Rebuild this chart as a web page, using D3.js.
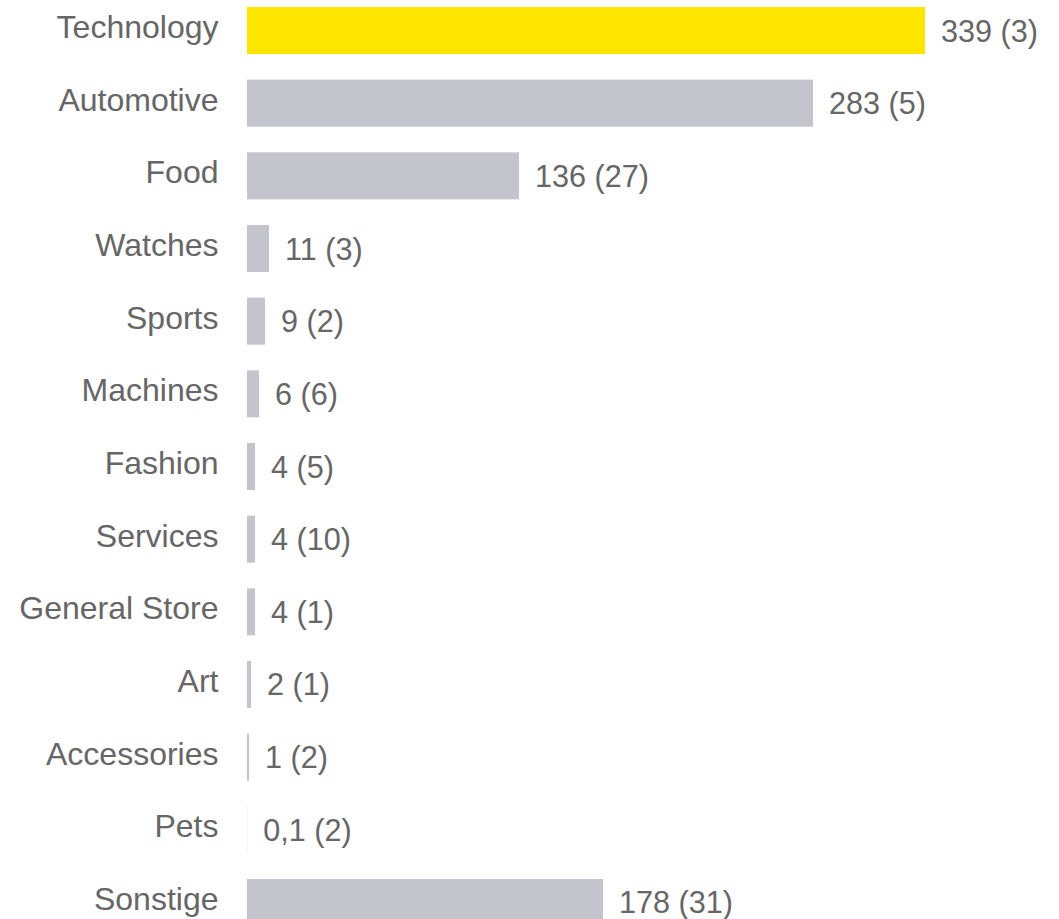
<!DOCTYPE html>
<html>
<head>
<meta charset="utf-8">
<script src="https://cdn.jsdelivr.net/npm/d3@7"></script>
<style>
  html, body { margin: 0; padding: 0; background: #fff; }
  svg { display: block; }
</style>
</head>
<body>
<svg id="chart" width="1059" height="919"></svg>
<script>
const categories = ["Technology","Automotive","Food","Watches","Sports","Machines","Fashion","Services","General Store","Art","Accessories","Pets","Sonstige"];
const values = [339, 283, 136, 11, 9, 6, 4, 4, 4, 2, 1, 0.1, 178];
const counts = [3, 5, 27, 3, 2, 6, 5, 10, 1, 1, 2, 2, 31];
const highlight = ["Technology"];

const data = categories.map((c, i) => ({ cat: c, value: values[i], count: counts[i] }));

const svg = d3.select("#chart");

const x = d3.scaleLinear().domain([0, 339]).range([247, 925]);
const y = d3.scaleBand().domain(categories).range([7, 926]).paddingInner(0.353).paddingOuter(0);

const fmt = v => String(v).replace(".", ",");

svg.selectAll("rect.bar")
  .data(data)
  .join("rect")
  .attr("class", "bar")
  .attr("x", x(0))
  .attr("y", d => y(d.cat))
  .attr("width", d => x(d.value) - x(0))
  .attr("height", y.bandwidth())
  .attr("fill", d => highlight.includes(d.cat) ? "#ffe600" : "#c4c4cd");

svg.selectAll("text.cat")
  .data(data)
  .join("text")
  .attr("class", "cat")
  .attr("x", 218.5)
  .attr("y", d => y(d.cat) + y.bandwidth() / 2 + 7.5)
  .attr("text-anchor", "end")
  .attr("font-family", "'Liberation Sans', Arial, sans-serif")
  .attr("font-size", 32)
  .attr("fill", "#666666")
  .text(d => d.cat);

svg.selectAll("text.val")
  .data(data)
  .join("text")
  .attr("class", "val")
  .attr("x", d => x(d.value) + 16)
  .attr("y", d => y(d.cat) + y.bandwidth() / 2 + 11)
  .attr("font-family", "'Liberation Sans', Arial, sans-serif")
  .attr("font-size", 30.6)
  .attr("fill", "#666666")
  .text(d => `${fmt(d.value)} (${d.count})`);
</script>
</body>
</html>
